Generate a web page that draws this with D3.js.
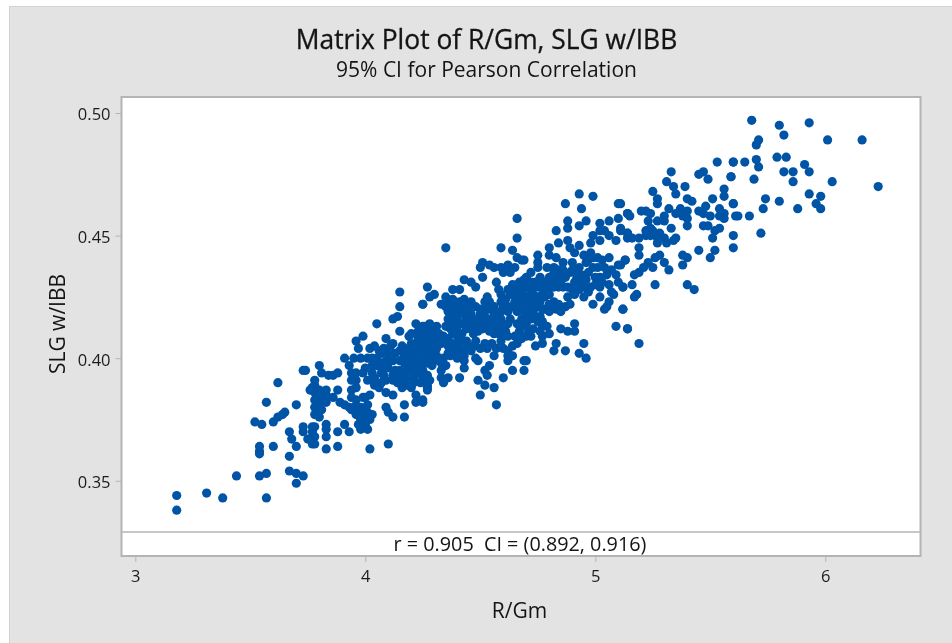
<!DOCTYPE html>
<html lang="en">
<head>
  <meta charset="UTF-8">
  <title>Matrix Plot of R/Gm, SLG w/IBB</title>
  <script src="https://cdnjs.cloudflare.com/ajax/libs/d3/7.8.5/d3.min.js"></script>
  <style>
    html, body { margin: 0; padding: 0; background: #fff; }
    svg { display: block; font-family: "Open Sans", "Noto Sans", sans-serif; fill: #141414; filter: blur(0.35px); }
    .axis path, .axis line { stroke: #b4b4b4; }
    .axis text { font-size: 16.5px; fill: #1c1c1c; font-family: "Open Sans", sans-serif; }
  </style>
</head>
<body>
  <svg width="952" height="643"></svg>

  <script>
    const xTicks = [3, 4, 5, 6]
    const yTicks = [0.35, 0.40, 0.45, 0.50]
    const title = 'Matrix Plot of R/Gm, SLG w/IBB'
    const subtitle = '95% CI for Pearson Correlation'
    const xLabel = 'R/Gm'
    const yLabel = 'SLG w/IBB'
    const corrLabel = 'r = 0.905  CI = (0.892, 0.916)'

    // [R/Gm, SLG w/IBB], low end to high end
    const lowEnd = [
      [3.18,.338],[3.18,.344],[3.31,.345],[3.38,.343],[3.44,.352],[3.57,.343],[3.54,.352],[3.57,.353],[3.67,.354],[3.70,.353],
      [3.73,.352],[3.70,.349],[3.67,.360],[3.70,.364],[3.60,.364],[3.54,.364],[3.54,.362],[3.54,.361],[3.67,.370],[3.68,.367],
      [3.75,.367],[3.73,.372],[3.73,.370],[3.77,.372],[3.78,.368],[3.78,.365],[3.77,.367],[3.52,.374],[3.55,.373],[3.60,.374],
      [3.62,.376],[3.65,.378],[3.64,.377],[3.70,.381],[3.57,.382],[3.62,.390],[3.73,.395],[3.74,.395],[3.78,.391],[3.76,.387]
    ]
    const lowerMiddle = [
      [3.83,.363],[3.88,.364],[4.02,.363],[4.10,.365],[3.77,.365],[3.77,.368],[3.77,.370],[3.78,.372],[3.83,.368],[3.83,.371],
      [3.83,.373],[3.88,.370],[3.93,.370],[3.91,.373],[3.98,.371],[4.01,.371],[4.00,.373],[4.00,.375],[3.98,.375],[4.03,.377],
      [3.99,.378],[3.98,.380],[4.01,.381],[4.00,.384],[4.02,.385],[3.94,.379],[3.91,.381],[3.89,.382],[3.96,.377],[3.93,.380],
      [3.94,.387],[3.96,.388],[3.94,.384],[3.99,.384],[4.09,.380],[4.10,.378],[4.12,.376],[4.17,.376],[4.17,.381],[4.22,.385],
      [4.22,.382],[4.25,.383],[4.27,.388],[4.12,.385],[4.09,.386],[4.16,.388],[3.79,.377],[3.80,.376],[3.78,.380],[3.80,.382],
      [3.83,.382],[3.86,.384],[3.88,.387],[3.83,.387],[3.78,.389],[3.77,.388],[3.80,.387],[3.82,.383],[3.80,.383],[3.80,.397],
      [3.81,.394],[3.84,.393],[3.86,.393],[3.88,.394],[3.91,.400],[3.93,.397],[3.94,.394],[3.94,.391],[3.96,.391],[3.96,.394],
      [3.96,.407],[3.97,.404],[3.99,.409],[3.95,.400],[3.98,.400],[4.01,.400],[3.99,.394],[4.04,.405],[4.07,.402],[4.06,.403],
      [4.05,.400],[4.09,.399],[4.03,.394],[4.01,.391],[4.04,.389],[4.06,.388],[4.04,.392],[4.07,.394],[4.09,.391],[4.12,.391],
      [4.10,.396],[4.14,.393],[4.16,.394],[4.18,.392],[4.21,.392],[4.23,.394],[4.15,.403],[4.17,.404],[4.15,.399],[4.15,.395],
      [4.20,.404],[4.22,.403],[4.26,.403],[4.25,.401],[4.27,.398],[4.22,.398],[4.25,.395],[4.20,.395],[4.09,.408],[4.12,.406],
      [4.05,.414],[4.12,.416],[4.14,.417],[4.15,.421],[4.15,.427],[4.25,.422],[4.15,.411],[4.19,.409],[4.22,.414],[4.20,.410],
      [4.23,.411],[4.26,.413],[4.24,.407],[4.27,.407],[4.22,.406],
      [4.17,.401],[4.20,.400],[4.22,.400],[4.24,.398],[4.18,.395],[4.21,.395],[4.23,.396],[4.25,.392],[4.13,.395],[4.18,.389],
      [4.21,.390],[4.24,.390],[4.27,.393],[4.27,.403],[4.24,.405],[4.27,.409],[4.23,.408],[4.20,.406],[4.19,.402],[4.16,.405],
      [4.12,.399],[4.10,.399],[4.07,.398],[4.05,.397],[4.07,.390],[4.08,.393],[4.12,.393],[4.14,.390],[4.03,.397],[4.00,.396],
      [4.02,.404],[3.78,.386],[3.80,.385],[3.78,.383],[3.79,.379],[3.81,.379],[3.78,.377],[3.83,.385],[3.95,.380],[3.96,.383],
      [3.97,.378],[4.01,.378],[4.02,.375],[3.99,.373],[3.97,.373],[4.08,.404],[4.10,.402],[4.13,.402],[4.11,.405],[4.07,.396],
      [4.03,.400],[4.17,.398],[4.19,.398],[4.16,.391],[4.20,.388]
    ]
    const core = [
      [4.35,.445],[4.59,.445],[4.64,.444],[4.66,.441],[4.68,.440],[4.51,.439],[4.50,.437],[4.54,.438],[4.56,.437],[4.59,.437],
      [4.62,.438],[4.65,.437],[4.60,.435],[4.63,.435],[4.51,.433],[4.43,.432],[4.46,.431],[4.48,.429],[4.57,.431],[4.38,.428],
      [4.41,.428],[4.27,.429],[4.30,.426],[4.28,.425],[4.25,.422],[4.35,.425],[4.33,.422],[4.35,.421],[4.36,.419],[4.36,.416],
      [4.35,.413],[4.41,.423],[4.43,.424],[4.46,.423],[4.48,.421],[4.53,.425],[4.54,.423],[4.58,.428],[4.59,.426],[4.64,.430],
      [4.63,.426],[4.66,.425],[4.67,.431],[4.70,.433],[4.68,.427],[4.71,.429],[4.70,.424],[4.41,.419],[4.40,.416],[4.43,.418],
      [4.46,.418],[4.42,.414],[4.46,.412],[4.49,.416],[4.52,.417],[4.56,.418],[4.59,.419],[4.62,.419],[4.59,.416],[4.63,.416],
      [4.66,.419],[4.68,.416],[4.71,.417],[4.71,.411],[4.51,.412],[4.54,.414],[4.57,.413],[4.49,.411],[4.42,.410],[4.41,.407],
      [4.38,.410],[4.44,.407],[4.48,.407],[4.52,.406],[4.55,.406],[4.59,.407],[4.58,.410],[4.62,.409],[4.65,.409],[4.64,.405],
      [4.64,.401],[4.62,.399],[4.62,.401],[4.70,.399],[4.64,.395],[4.69,.395],[4.56,.401],[4.48,.400],[4.49,.399],[4.54,.397],
      [4.52,.395],[4.53,.393],[4.60,.392],[4.49,.391],[4.52,.389],[4.56,.388],[4.50,.385],[4.57,.381],[4.41,.392],[4.43,.396],
      [4.43,.399],[4.40,.400],[4.37,.401],[4.39,.402],[4.43,.401],[4.35,.397],[4.33,.395],[4.36,.392],[4.34,.390],[4.33,.392],
      [4.28,.391],[4.27,.389],[4.27,.387],[4.25,.382],[4.25,.413],[4.28,.414],[4.31,.413],[4.27,.410],[4.30,.410],[4.25,.406],
      [4.28,.405],[4.31,.407],[4.33,.406],[4.36,.405],[4.25,.402],[4.28,.401],[4.31,.404],[4.31,.401],[4.38,.406],[4.26,.398],
      [4.30,.399],[4.39,.405],
      [4.24,.410],[4.26,.408],[4.29,.412],[4.29,.408],[4.32,.410],[4.34,.409],[4.26,.404],[4.29,.403],[4.24,.404],[4.34,.400],
      [4.24,.399],[4.27,.400],[4.33,.398],[4.29,.397],[4.36,.423],[4.38,.424],[4.38,.421],[4.40,.421],[4.37,.418],[4.39,.418],
      [4.38,.415],[4.40,.413],[4.37,.412],[4.39,.411],[4.36,.408],[4.40,.409],[4.42,.407],[4.41,.404],[4.38,.403],[4.42,.403],
      [4.36,.402],[4.43,.421],[4.45,.421],[4.44,.416],[4.47,.415],[4.45,.414],[4.44,.412],[4.47,.410],[4.48,.412],[4.50,.414],
      [4.50,.420],[4.52,.420],[4.52,.423],[4.50,.418],[4.54,.420],[4.56,.421],[4.52,.414],[4.55,.416],[4.57,.416],[4.54,.411],
      [4.56,.410],[4.60,.421],[4.60,.413],[4.59,.410],[4.61,.424],[4.59,.423],[4.62,.414],[4.61,.411],[4.47,.405],[4.50,.404],
      [4.53,.404],[4.57,.404],[4.60,.404],[4.62,.403],[4.46,.403],[4.44,.404],[4.64,.428],[4.66,.428],[4.62,.428],[4.66,.430],
      [4.69,.429],[4.68,.424],[4.65,.423],[4.67,.422],[4.62,.421],[4.64,.421],[4.69,.419],[4.72,.420],[4.74,.417],[4.66,.414],
      [4.68,.413],[4.70,.409],[4.67,.411],[4.68,.408],[4.66,.406],[4.72,.427],[4.74,.431],[4.73,.424],[4.75,.421],[4.75,.425]
    ]
    const upperMiddle = [
      [4.66,.457],[4.66,.449],[4.93,.467],[4.99,.466],[4.87,.463],[4.94,.461],[5.10,.463],[5.14,.459],[4.88,.456],[4.88,.453],
      [4.96,.456],[4.93,.454],[4.83,.452],[5.02,.455],[5.06,.456],[5.10,.457],[5.11,.453],[5.14,.451],[5.14,.449],[4.84,.447],
      [4.88,.448],[4.93,.446],[4.98,.447],[4.99,.450],[5.02,.452],[5.04,.452],[5.02,.448],[5.06,.450],[5.09,.448],[4.80,.445],
      [4.80,.442],[4.75,.442],[4.83,.441],[4.89,.445],[4.91,.443],[4.95,.442],[4.98,.443],[5.01,.441],[5.03,.440],[5.06,.441],
      [5.10,.438],[5.13,.440],[4.69,.440],[4.75,.439],[4.75,.437],[4.72,.435],[4.79,.437],[4.82,.437],[4.86,.439],[4.90,.439],
      [4.93,.437],[4.96,.439],[4.99,.437],[5.01,.437],[4.69,.432],[4.72,.431],[4.76,.433],[4.80,.433],[4.85,.434],[4.89,.435],
      [4.92,.433],[4.93,.431],[5.00,.433],[5.02,.433],[5.03,.431],[5.06,.430],[4.98,.429],[4.96,.432],[5.12,.429],[5.02,.425],
      [5.08,.426],[5.06,.423],[4.99,.422],[5.04,.420],[5.12,.420],[5.05,.421],[5.09,.413],[5.14,.412],[4.70,.429],[4.72,.429],
      [4.75,.429],[4.80,.429],[4.88,.429],[4.91,.431],[4.82,.429],[4.70,.425],[4.73,.426],[4.77,.426],[4.80,.426],[4.88,.425],
      [4.72,.422],[4.76,.423],[4.80,.422],[4.85,.419],[4.83,.420],[4.77,.420],[4.69,.422],[4.70,.420],[4.73,.419],[4.72,.416],
      [4.70,.414],[4.72,.409],[4.74,.405],[4.77,.415],[4.79,.413],[4.77,.413],[4.80,.410],[4.77,.409],[4.77,.406],[4.85,.412],
      [4.88,.411],[4.91,.414],[4.91,.411],[4.83,.406],[4.82,.403],[4.87,.403],[4.95,.406],[4.93,.402],[4.96,.400],[4.69,.399],
      [4.76,.431],[4.78,.431],[4.80,.431],[4.83,.432],[4.85,.431],[4.87,.433],[4.78,.428],[4.78,.425],[4.75,.423],[4.78,.420],
      [4.80,.419],[4.82,.423],[4.84,.422],[4.87,.421],[4.89,.422],[4.86,.429],[4.84,.429],[4.90,.428],[4.91,.426],[4.90,.436],
      [4.84,.436],[4.86,.436],[4.82,.435],[4.93,.428],[4.95,.429],[4.92,.436],[4.94,.434],[4.97,.435],[5.00,.430],[4.76,.417],
      [4.75,.415],[4.73,.412],[4.76,.411],[4.97,.440],[4.99,.441],[5.04,.437],[5.07,.436],[5.05,.434],[5.09,.434],[5.10,.431],
      [5.07,.427],[5.02,.429],[4.97,.427],[4.95,.425]
    ]
    const highEnd = [
      [5.53,.480],[5.60,.480],[5.33,.476],[5.45,.475],[5.47,.476],[5.49,.473],[5.59,.474],[5.31,.472],[5.34,.470],[5.39,.470],
      [5.35,.467],[5.25,.468],[5.27,.465],[5.27,.463],[5.40,.465],[5.42,.464],[5.56,.469],[5.56,.466],[5.51,.465],[5.60,.463],
      [5.11,.463],[5.14,.459],[5.15,.458],[5.20,.460],[5.22,.460],[5.24,.459],[5.23,.456],[5.37,.461],[5.40,.460],[5.32,.461],
      [5.30,.458],[5.35,.459],[5.38,.458],[5.40,.457],[5.45,.460],[5.48,.462],[5.47,.459],[5.50,.458],[5.54,.461],[5.54,.458],
      [5.56,.459],[5.56,.457],[5.61,.458],[5.27,.456],[5.30,.456],[5.33,.453],[5.40,.454],[5.47,.454],[5.49,.454],[5.52,.452],
      [5.54,.453],[5.11,.452],[5.24,.453],[5.22,.452],[5.25,.452],[5.28,.451],[5.14,.451],[5.16,.449],[5.19,.449],[5.22,.450],
      [5.24,.450],[5.27,.449],[5.30,.449],[5.35,.449],[5.27,.447],[5.31,.447],[5.34,.448],[5.51,.449],[5.60,.450],[5.60,.445],
      [5.45,.444],[5.52,.444],[5.50,.441],[5.38,.442],[5.40,.441],[5.38,.438],[5.19,.445],[5.19,.442],[5.13,.440],[5.11,.438],
      [5.28,.442],[5.26,.441],[5.30,.439],[5.23,.439],[5.25,.437],[5.21,.437],[5.19,.435],[5.32,.436],[5.17,.434],[5.26,.430],
      [5.16,.430],[5.12,.429],[5.40,.430],[5.43,.428],[5.18,.426],[5.17,.425],[5.12,.420],[5.14,.412],[5.19,.406],[5.68,.497],
      [5.80,.495],[5.93,.496],[5.82,.491],[6.01,.489],[6.16,.489],[5.71,.489],[5.70,.487],[5.60,.480],[5.65,.480],[5.70,.481],
      [5.79,.482],[5.83,.482],[5.71,.478],[5.91,.479],[5.93,.476],[5.82,.476],[5.86,.476],[5.86,.472],[5.69,.473],[5.59,.474],
      [6.03,.472],[6.23,.470],[5.93,.467],[5.98,.466],[5.96,.463],[5.98,.461],[5.88,.461],[5.74,.465],[5.80,.464],[5.73,.461],
      [5.60,.463],[5.62,.458],[5.67,.458],[5.72,.451]
    ]
    const points = [...lowEnd, ...lowerMiddle, ...core, ...upperMiddle, ...highEnd]

    const frame = { left: 121.5, right: 920.5, top: 97, bottom: 556, band: 532 }

    const x = d3.scaleLinear().domain([3, 6]).range([135.3, 825.3])
    const y = d3.scaleLinear().domain([0.35, 0.50]).range([480.8, 113])

    const svg = d3.select('svg')

    svg.append('rect')
      .attr('x', 9.5).attr('y', 6.5)
      .attr('width', 950).attr('height', 650)
      .attr('fill', '#e3e3e3')
      .attr('stroke', '#d2d2d2')

    svg.append('rect')
      .attr('x', frame.left).attr('y', frame.top)
      .attr('width', frame.right - frame.left)
      .attr('height', frame.bottom - frame.top)
      .attr('fill', '#fff')
      .attr('stroke', '#b4b4b4')
      .attr('stroke-width', 2)

    svg.append('line')
      .attr('x1', frame.left).attr('x2', frame.right)
      .attr('y1', frame.band).attr('y2', frame.band)
      .attr('stroke', '#b4b4b4')
      .attr('stroke-width', 1.5)

    const xAxis = svg.append('g')
      .attr('class', 'axis')
      .attr('transform', `translate(0, ${frame.bottom})`)
      .call(d3.axisBottom(x).tickValues(xTicks).tickFormat(d3.format('d')).tickSize(6).tickSizeOuter(0).tickPadding(8))
    xAxis.select('.domain').remove()

    const yAxis = svg.append('g')
      .attr('class', 'axis')
      .attr('transform', `translate(${frame.left}, 0)`)
      .call(d3.axisLeft(y).tickValues(yTicks).tickFormat(d3.format('.2f')).tickSize(6).tickSizeOuter(0).tickPadding(5))
    yAxis.select('.domain').remove()
    yAxis.selectAll('text').attr('dy', '0.42em')

    svg.append('g')
      .selectAll('circle')
      .data(points)
      .enter()
      .append('circle')
      .attr('cx', d => x(d[0]))
      .attr('cy', d => y(d[1]))
      .attr('r', 4.6)
      .attr('fill', '#0054a6')

    svg.append('text')
      .attr('x', 486.5).attr('y', 49)
      .attr('text-anchor', 'middle')
      .attr('font-size', 26.4)
      .attr('stroke', '#141414')
      .attr('stroke-width', 0.3)
      .text(title)

    svg.append('text')
      .attr('x', 486.5).attr('y', 77)
      .attr('text-anchor', 'middle')
      .attr('font-size', 21)
      .text(subtitle)

    svg.append('text')
      .attr('x', 520).attr('y', 551)
      .attr('text-anchor', 'middle')
      .attr('font-size', 19.8)
      .style('white-space', 'pre')
      .text(corrLabel)

    svg.append('text')
      .attr('x', 519.5).attr('y', 618)
      .attr('text-anchor', 'middle')
      .attr('font-size', 21)
      .text(xLabel)

    svg.append('text')
      .attr('transform', 'translate(65, 324) rotate(-90)')
      .attr('text-anchor', 'middle')
      .attr('font-size', 21)
      .text(yLabel)
  </script>
</body>
</html>
